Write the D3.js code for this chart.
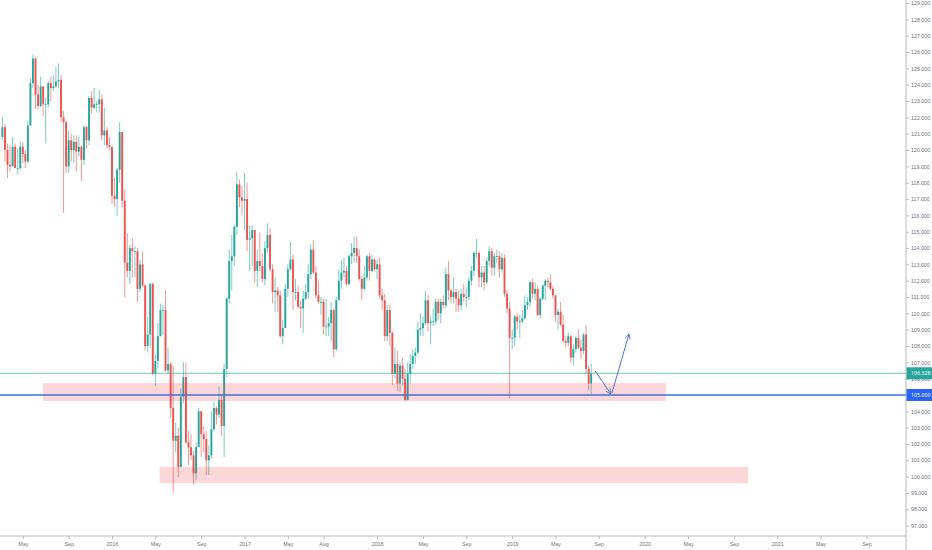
<!DOCTYPE html>
<html>
<head>
<meta charset="utf-8">
<script src="https://cdn.jsdelivr.net/npm/d3@7"></script>
<style>
body { margin: 0; background: #fff; }
svg { display: block; font-family: "Noto Sans", sans-serif; }
.axis text { fill: #6f727c; font-size: 5.3px; }
.axis line { stroke: #b8bbc4; }
.tag text { fill: #fff; font-size: 5.3px; }
</style>
</head>
<body>
<script>
// USD/JPY weekly
const firstWeek = '2015-03-09';
const firstOpen = 120.8;

const closes = [
	// 2015
	121.4, 120.0, 119.1, 119.0, 120.2, 118.9, 118.9, 120.2, 119.75, 119.3, 121.5, 124.1, 125.6, 123.4, 122.7,
	123.9, 122.8, 122.8, 124.1, 123.8, 123.9, 124.2, 124.3, 122.0, 121.7, 119.0, 120.6, 120.0, 120.5, 119.9,
	120.2, 119.4, 121.4, 120.6, 123.2, 122.6, 122.8, 122.8, 123.1, 120.9, 121.2, 120.3, 120.2,
	// 2016
	117.2, 117.0, 118.8, 121.1, 116.9, 113.1, 112.6, 114.0, 113.8, 113.8, 111.5, 113.0, 111.7, 108.0, 108.7,
	111.8, 106.3, 107.1, 108.6, 110.2, 110.2, 106.5, 106.9, 104.2, 102.2, 102.5, 100.6, 104.9, 106.1, 102.1,
	101.8, 101.3, 100.2, 101.8, 104.0, 102.6, 102.3, 101.0, 101.3, 102.9, 104.2, 103.8, 104.7, 103.1, 106.6,
	110.9, 113.2, 113.5, 115.3, 117.9, 117.1, 116.9,
	// 2017
	117.0, 114.5, 114.6, 115.1, 112.6, 113.2, 112.9, 112.1, 114.0, 114.8, 112.7, 111.3, 111.4, 111.1, 108.6,
	109.1, 111.5, 112.7, 113.3, 111.3, 111.3, 110.4, 110.3, 110.9, 111.3, 112.4, 113.9, 112.5, 111.1, 110.7,
	110.7, 109.2, 109.2, 109.4, 110.2, 107.8, 110.8, 112.0, 112.5, 112.6, 111.8, 113.5, 113.7, 114.0, 113.5,
	112.1, 111.5, 112.2, 113.5, 112.6, 113.3, 112.7,
	// 2018
	113.0, 111.1, 110.8, 108.6, 110.2, 108.8, 106.3, 106.9, 105.7, 106.8, 106.0, 104.7, 106.3, 106.9, 107.4,
	107.6, 109.0, 109.1, 109.4, 110.8, 109.4, 109.5, 109.5, 110.7, 110.0, 110.7, 110.5, 112.4, 111.4, 111.0,
	111.3, 110.9, 110.5, 111.2, 111.0, 111.0, 112.0, 112.6, 113.7, 113.7, 112.2, 112.5, 111.9, 113.2, 113.8,
	112.8, 113.5, 113.5, 112.7, 113.4, 111.2, 110.3, 108.5,
	// 2019
	108.5, 109.8, 109.5, 109.5, 109.7, 110.5, 110.7, 111.9, 111.2, 111.5, 109.9, 110.9, 111.7, 112.0, 111.9,
	111.5, 111.1, 109.9, 110.1, 109.3, 108.3, 108.2, 108.6, 107.3, 107.8, 108.5, 107.9, 107.7, 108.7, 106.6,
	105.7, 106.3
];

const highs = [
	122.03, 121.6, 120.4, 120.3, 120.8, 120.4, 120.1, 120.5, 120.5, 120.0, 121.8, 124.4, 125.86, 125.7, 124.0,
	124.5, 123.8, 123.2, 124.2, 124.5, 124.6, 125.1, 125.3, 124.6, 122.4, 121.8, 121.2, 121.0, 120.9, 120.9,
	120.8, 120.3, 121.5, 121.5, 123.3, 123.6, 123.8, 123.0, 123.7, 123.4, 122.6, 121.4, 120.8,
	120.2, 118.3, 118.9, 121.7, 121.0, 117.6, 114.9, 114.2, 114.6, 114.1, 114.0, 113.3, 113.8, 111.8, 109.8,
	111.9, 111.9, 107.5, 109.4, 110.6, 110.5, 111.4, 107.9, 107.0, 106.8, 103.3, 103.0, 105.4, 107.0, 107.0,
	102.8, 102.6, 101.6, 102.1, 104.2, 104.0, 103.1, 102.8, 101.9, 104.0, 104.6, 104.3, 105.5, 105.0, 106.9,
	111.0, 113.9, 114.8, 115.4, 118.66, 118.2, 117.8,
	118.6, 118.0, 115.4, 115.4, 115.1, 113.9, 114.95, 113.7, 114.4, 115.5, 115.2, 113.0, 112.2, 111.6, 111.4,
	109.6, 111.8, 113.0, 114.4, 113.6, 112.1, 111.7, 110.8, 111.4, 111.8, 113.0, 114.2, 114.5, 112.9, 112.0,
	111.0, 110.9, 110.9, 109.8, 110.7, 110.3, 111.0, 112.7, 113.3, 113.4, 112.9, 113.6, 114.3, 114.7, 114.7,
	113.9, 112.3, 112.9, 113.6, 113.7, 113.6, 113.4,
	113.3, 113.4, 111.5, 111.2, 110.5, 110.5, 108.9, 107.9, 107.7, 107.0, 107.3, 106.6, 107.0, 107.5, 107.8,
	107.9, 109.5, 110.0, 109.8, 111.4, 111.1, 109.8, 110.3, 110.9, 110.9, 110.9, 111.1, 112.8, 113.2, 111.5,
	112.2, 111.5, 111.4, 111.5, 111.8, 111.6, 112.2, 112.9, 113.8, 114.55, 113.8, 112.9, 112.9, 113.4, 114.1,
	114.0, 113.7, 113.9, 113.8, 113.7, 113.6, 111.4, 110.7,
	109.0, 109.9, 110.0, 109.9, 110.2, 111.1, 111.0, 112.0, 112.1, 111.9, 111.7, 111.0, 111.8, 112.1, 112.2,
	112.4, 111.7, 111.1, 110.3, 110.7, 109.9, 108.6, 108.8, 108.7, 108.1, 108.6, 108.99, 108.4, 108.8, 109.3,
	106.8, 106.9
];

const lows = [
	120.6, 119.3, 118.3, 118.7, 119.0, 118.9, 118.5, 118.8, 119.2, 118.9, 119.2, 121.5, 123.8, 122.5, 122.5,
	122.6, 122.1, 120.4, 122.6, 123.0, 123.6, 123.8, 123.8, 121.7, 116.15, 118.6, 118.6, 119.3, 119.2, 118.7,
	119.6, 118.1, 119.1, 120.1, 120.3, 122.2, 122.5, 122.3, 122.3, 120.6, 120.3, 120.1, 120.0,
	116.7, 116.5, 115.98, 118.0, 116.5, 110.98, 112.2, 111.8, 112.2, 112.2, 110.7, 111.3, 111.6, 107.7, 107.6,
	107.9, 106.2, 105.55, 106.6, 108.7, 108.7, 106.4, 106.3, 103.6, 99.0, 101.5, 99.98, 100.6, 104.5, 102.0,
	100.7, 101.0, 99.55, 99.8, 101.8, 101.2, 101.5, 100.1, 100.1, 101.1, 102.8, 103.2, 103.6, 102.5, 101.2,
	106.1, 110.6, 111.4, 112.9, 114.8, 116.5, 116.0,
	115.1, 113.8, 112.6, 112.9, 111.9, 111.6, 112.6, 111.9, 111.7, 113.7, 112.6, 110.6, 110.1, 110.1, 108.5,
	108.1, 109.3, 111.0, 112.6, 110.2, 110.8, 110.3, 109.1, 108.8, 110.8, 110.9, 112.1, 112.4, 110.9, 110.6,
	109.9, 108.7, 108.6, 108.6, 108.3, 107.3, 107.7, 110.8, 111.5, 112.2, 111.7, 111.7, 113.0, 113.1, 113.1,
	112.0, 110.8, 111.4, 112.0, 112.0, 112.5, 112.6,
	112.1, 110.9, 110.2, 108.3, 108.3, 108.0, 105.6, 106.0, 105.25, 105.2, 105.6, 104.6, 104.65, 105.7, 106.6,
	106.9, 107.5, 108.6, 108.6, 109.3, 108.9, 108.1, 109.2, 109.3, 109.6, 109.4, 110.3, 110.3, 110.8, 110.6,
	110.6, 110.1, 110.1, 110.2, 110.7, 110.4, 110.8, 111.7, 112.3, 113.4, 111.6, 111.6, 111.4, 111.8, 112.9,
	112.3, 112.3, 113.1, 112.2, 112.5, 111.0, 110.0, 104.8,
	107.8, 108.0, 109.0, 108.5, 109.4, 109.6, 110.2, 110.4, 110.9, 110.8, 109.8, 109.7, 110.8, 110.8, 111.6,
	111.4, 110.9, 109.5, 109.0, 109.2, 108.2, 107.9, 108.0, 107.0, 106.8, 107.6, 107.8, 107.2, 107.5, 106.3,
	105.3, 105.05
];

// axes
const priceTicks = d3.range(97, 130);
const timeTicks = ['2015-05-04', '2015-09-07', '2016-01-04', '2016-05-02', '2016-09-05', '2017-01-02',
	'2017-05-01', '2017-08-07', '2018-01-01', '2018-05-07', '2018-09-03', '2019-01-07', '2019-05-06',
	'2019-09-02', '2020-01-06', '2020-05-04', '2020-09-07', '2021-01-04', '2021-05-03', '2021-09-06'];
const timeLabels = ['May', 'Sep', '2016', 'May', 'Sep', '2017', 'May', 'Aug', '2018', 'May', 'Sep',
	'2019', 'May', 'Sep', '2020', 'May', 'Sep', '2021', 'May', 'Sep'];

// drawings: [from, to, low, high]
const zones = [
	['2015-06-28', '2020-03-04', 104.63, 105.73],
	['2016-05-14', '2020-10-16', 99.6, 100.6]
];
// arrows: [from date, from price, to date, to price]
const arrows = [
	['2019-08-23', 106.47, '2019-10-05', 105.06],
	['2019-10-08', 105.12, '2019-11-24', 108.74]
];
const lastPrice = 106.328;
const levelPrice = 105.0;

// svg params
const svgW = 932;
const svgH = 550;
const axisX = 906;
const axisY = 536;
const upColor = '#26a69a';
const downColor = '#ef5350';

const parse = d3.timeParse('%Y-%m-%d');
const x = d3.scaleTime().domain([ parse('2016-01-04'), parse('2020-01-06') ]).range([ 112, 644.7 ]);
const y = d3.scaleLinear().domain([ 97, 129 ]).range([ 525.6, 3.1 ]);

const start = parse(firstWeek);
const bars = closes.map((c, i) => {
	const o = i ? closes[i - 1] : firstOpen;
	return {
		date: d3.timeDay.offset(start, 7 * i),
		o: o,
		c: c,
		h: Math.max(highs[i], o, c),
		l: Math.min(lows[i], o, c)
	};
});

const svg = d3.select('body').append('svg').attr('width', svgW).attr('height', svgH);

/*
	candles
*/
const g = svg.append('g');
g.selectAll('line.wick').data(bars).enter().append('line')
	.attr('class', 'wick')
	.attr('x1', (d) => x(d.date)).attr('x2', (d) => x(d.date))
	.attr('y1', (d) => y(d.h)).attr('y2', (d) => y(d.l))
	.attr('stroke', (d) => (d.c >= d.o ? upColor : downColor))
	.attr('stroke-width', 0.8)
	.attr('stroke-opacity', 0.75);
g.selectAll('rect.body').data(bars).enter().append('rect')
	.attr('class', 'body')
	.attr('x', (d) => x(d.date) - 0.95)
	.attr('width', 1.9)
	.attr('y', (d) => y(Math.max(d.o, d.c)))
	.attr('height', (d) => Math.max(0.8, Math.abs(y(d.o) - y(d.c))))
	.attr('fill', (d) => (d.c >= d.o ? upColor : downColor));

/*
	zones and lines
*/
svg.selectAll('rect.zone').data(zones).enter().append('rect')
	.attr('class', 'zone')
	.attr('x', (d) => x(parse(d[0])))
	.attr('width', (d) => x(parse(d[1])) - x(parse(d[0])))
	.attr('y', (d) => y(d[3]))
	.attr('height', (d) => y(d[2]) - y(d[3]))
	.attr('fill', '#f23645')
	.attr('fill-opacity', 0.2);

svg.append('line')
	.attr('x1', 0).attr('x2', axisX)
	.attr('y1', y(lastPrice)).attr('y2', y(lastPrice))
	.attr('stroke', upColor).attr('stroke-width', 0.8).attr('stroke-opacity', 0.8);
svg.append('line')
	.attr('x1', 0).attr('x2', axisX)
	.attr('y1', y(levelPrice)).attr('y2', y(levelPrice))
	.attr('stroke', '#3f6fe6').attr('stroke-width', 1.4);

svg.append('defs').append('marker')
	.attr('id', 'head')
	.attr('viewBox', '0 0 10 10')
	.attr('refX', 9).attr('refY', 5)
	.attr('markerWidth', 6).attr('markerHeight', 6)
	.attr('markerUnits', 'userSpaceOnUse')
	.attr('orient', 'auto')
	.append('path')
	.attr('d', 'M1,1L9,5L1,9')
	.attr('fill', 'none')
	.attr('stroke', '#4a76de')
	.attr('stroke-width', 1.4);

svg.selectAll('line.arrow').data(arrows).enter().append('line')
	.attr('class', 'arrow')
	.attr('x1', (d) => x(parse(d[0]))).attr('y1', (d) => y(d[1]))
	.attr('x2', (d) => x(parse(d[2]))).attr('y2', (d) => y(d[3]))
	.attr('stroke', '#4a76de').attr('stroke-width', 1)
	.attr('marker-end', 'url(#head)');

/*
	axes
*/
const yAxis = svg.append('g').attr('class', 'axis')
	.attr('transform', 'translate(' + axisX + ',0)')
	.call(d3.axisRight(y).tickValues(priceTicks).tickFormat(d3.format('.3f')).tickSize(3).tickPadding(2));
yAxis.select('.domain').remove();

const xAxis = svg.append('g').attr('class', 'axis')
	.attr('transform', 'translate(0,' + axisY + ')')
	.call(d3.axisBottom(x).tickValues(timeTicks.map(parse)).tickFormat((d, i) => timeLabels[i]).tickSize(3).tickPadding(3));
xAxis.select('.domain').remove();

svg.append('line').attr('x1', axisX).attr('x2', axisX).attr('y1', 0).attr('y2', svgH)
	.attr('stroke', '#b8bbc4');
svg.append('line').attr('x1', 0).attr('x2', axisX).attr('y1', axisY).attr('y2', axisY)
	.attr('stroke', '#b8bbc4');

// price tags
const tags = [ [ lastPrice, upColor ], [ levelPrice, '#2962ff' ] ];
const tag = svg.selectAll('g.tag').data(tags).enter().append('g').attr('class', 'tag')
	.attr('transform', (d) => 'translate(' + axisX + ',' + y(d[0]) + ')');
tag.append('rect').attr('x', 0.5).attr('y', -6).attr('width', svgW - axisX).attr('height', 12)
	.attr('fill', (d) => d[1]);
tag.append('text').attr('x', 5).attr('dy', '0.35em').text((d) => d3.format('.3f')(d[0]));
</script>
</body>
</html>
